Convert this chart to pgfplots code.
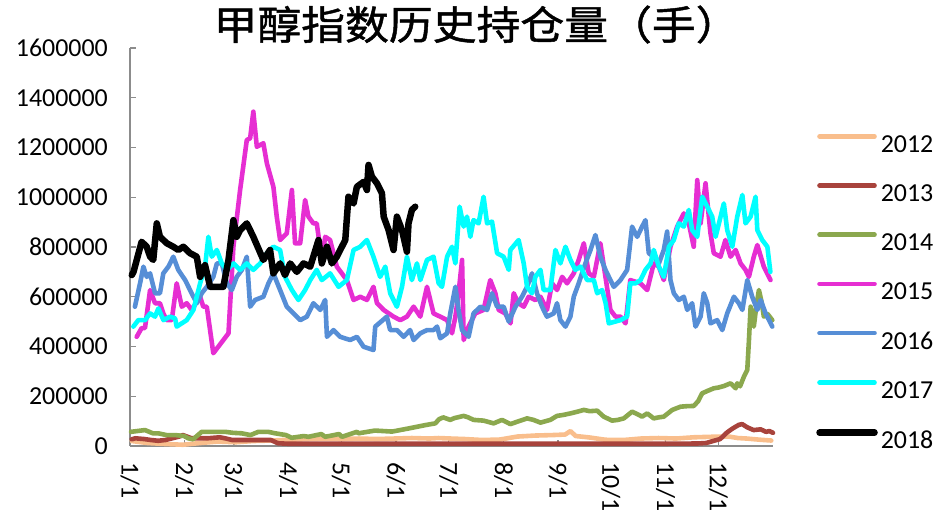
\documentclass[border=0pt]{standalone}
\usepackage{pgfplots}
\pgfplotsset{compat=1.18}
\usepackage{fontspec}
\setmainfont{Carlito}
\newfontfamily\cjk[FakeBold=1.2,FakeStretch=1.1]{Noto Sans CJK SC}
\definecolor{c2012}{HTML}{F9BE8C}
\definecolor{c2013}{HTML}{A8433C}
\definecolor{c2014}{HTML}{8BA84E}
\definecolor{c2015}{HTML}{E62ED2}
\definecolor{c2016}{HTML}{568ED6}
\definecolor{c2017}{HTML}{00FFFF}
\definecolor{c2018}{HTML}{000000}
\begin{document}
\begin{tikzpicture}
\path[use as bounding box] (0,0) rectangle (937bp,516bp);
\begin{axis}[
  at={(130bp,70bp)}, anchor=south west,
  scale only axis, width=643bp, height=398bp,
  xmin=0, xmax=365, ymin=0, ymax=1600000,
  clip=false,
  axis lines*=left,
  axis line style={draw=gray!90, line width=1.2bp},
  tick style={draw=gray!90, line width=1.2bp},
  tick align=inside,
  major tick length=6bp,
  xtick={0,31,59,90,120,151,181,212,243,273,304,334},
  xticklabels={1/1,2/1,3/1,4/1,5/1,6/1,7/1,8/1,9/1,10/1,11/1,12/1},
  ytick={0,200000,400000,600000,800000,1000000,1200000,1400000,1600000},
  scaled y ticks=false,
  /pgf/number format/assume math mode=true,
  /pgf/number format/fixed,
  /pgf/number format/1000 sep={},
  ticklabel style={font=\fontsize{26}{31}\selectfont, inner sep=0pt},
  yticklabel shift=22bp,
  xticklabel style={rotate=-90, anchor=west},
  xticklabel shift=16bp,
  title={\cjk 甲醇指数历史持仓量（手）},
  title style={at={(axis description cs:0.539,1.044)}, anchor=center, font=\fontsize{40}{48}\selectfont},
  legend cell align=left,
  legend image code/.code={\draw[#1, line cap=round] (0bp,8bp) -- (55bp,8bp);},
  legend style={draw=none, fill=none, at={(axis description cs:1.067,0.784)}, anchor=north west,
    inner sep=0pt, row sep=29.7bp, column sep=3bp, font=\fontsize{26}{31}\selectfont,
    nodes={inner sep=0pt}},
  every axis plot/.append style={line width=4.6bp, line join=round, line cap=round},
]
\addplot[c2012] coordinates {(1,20000)(10,12000)(20,8000)(30,5000)(40,12000)(50,18000)(60,15000)(70,20000)(80,22000)(90,25000)(100,28000)(110,30000)(120,28000)(130,30000)(140,28000)(150,30000)(160,32000)(170,30000)(175,32000)(182,30000)(190,28000)(200,24000)(210,26000)(220,38000)(230,42000)(240,44000)(247,46000)(250,60000)(253,40000)(260,35000)(270,25000)(280,24000)(290,30000)(300,32000)(310,30000)(320,35000)(330,37000)(340,38000)(345,32000)(350,30000)(358,25000)(364,22000)};
\addlegendentry{2012}
\addplot[c2013] coordinates {(1,27000)(3,31000)(8,28000)(12,24000)(16,21000)(20,24000)(28,38000)(30,44000)(35,31000)(44,31000)(51,35000)(54,31000)(58,24000)(63,24000)(71,24000)(80,24000)(84,11000)(90,9000)(120,9000)(150,9000)(180,9000)(210,9000)(240,9000)(270,9000)(300,9000)(322,10000)(327,12000)(335,28000)(339,55000)(342,70000)(345.6,85000)(347.5,88000)(350.4,75000)(354,64000)(358,67000)(361,57000)(363,60000)(365,53000)};
\addlegendentry{2013}
\addplot[c2014] coordinates {(0.6,57000)(4,60000)(8.5,64000)(13,51000)(16,51000)(20.7,44000)(25.6,44000)(30.7,40000)(33,31000)(35.8,27000)(40.7,57000)(46,57000)(50.9,57000)(54,57000)(58.4,53000)(63.4,51000)(68.4,44000)(72.9,57000)(78.4,57000)(82.4,51000)(88.5,44000)(91.8,33000)(98.6,40000)(101.3,37000)(108.6,48000)(110.8,37000)(118.7,48000)(120.3,37000)(128.8,57000)(129.7,51000)(139,62000)(148.8,58000)(158.5,71000)(167.6,84000)(173.3,91000)(175.5,108000)(177.8,115000)(181.8,105000)(184.1,112000)(189.4,121000)(192,115000)(195,105000)(200.7,102000)(206.4,91000)(211.2,105000)(215.9,88000)(220,98000)(225.4,111000)(229,105000)(233,94000)(238.6,105000)(242.4,121000)(246,125000)(250,131000)(254,138000)(257.6,145000)(261,140000)(265.2,142000)(268.9,118000)(273.7,102000)(277,105000)(280.3,111000)(285,138000)(288,128000)(290.7,118000)(293.6,131000)(297.3,111000)(300,115000)(303,118000)(307.8,145000)(312.5,158000)(316,160000)(320,161000)(322.5,180000)(324.8,212000)(328,222000)(331.4,232000)(334,235000)(337.1,241000)(340.9,252000)(343.8,232000)(344.7,252000)(346.3,240000)(348.5,279000)(350.4,306000)(351.3,420000)(352.3,560000)(354.1,480000)(355.5,560000)(357,627000)(358.5,580000)(359.8,520000)(362,530000)(364.6,506000)};
\addlegendentry{2014}
\addplot[c2015] coordinates {(3.8,439000)(6.6,474000)(8.5,474000)(11.4,627000)(14.2,574000)(17,574000)(18.9,533000)(20.8,506000)(23.7,506000)(26.5,654000)(29.4,560000)(32.2,574000)(35,547000)(39.8,600000)(41.6,560000)(43.6,560000)(47.3,373000)(55.9,453000)(58.7,801000)(62.5,1029000)(66.3,1230000)(68.2,1237000)(70,1344000)(72,1203000)(75.7,1217000)(77.7,1136000)(81.4,1042000)(83.3,922000)(85.2,828000)(89,855000)(91.9,1029000)(93.7,815000)(96.6,815000)(99.4,989000)(101.3,922000)(104.1,895000)(106,895000)(108.9,748000)(110.8,841000)(113.6,828000)(117.4,721000)(123.1,667000)(126.9,587000)(130.7,600000)(134.5,587000)(138.2,640000)(140.2,574000)(144,547000)(149.6,520000)(153.4,506000)(157.2,520000)(161,560000)(164.8,520000)(168.6,640000)(172.3,533000)(176.1,520000)(180,506000)(182.8,453000)(184.7,520000)(186.5,614000)(188.5,748000)(189.4,426000)(192.2,480000)(196,533000)(200.7,547000)(204.5,667000)(207.4,614000)(209.3,547000)(213,533000)(216,493000)(217.8,614000)(220.6,574000)(223.5,560000)(226.3,600000)(230.1,587000)(233,600000)(236.7,547000)(239.6,654000)(242.4,627000)(245.3,680000)(248.1,654000)(251.9,694000)(254.7,748000)(257.6,815000)(260.4,694000)(263.3,680000)(267,815000)(269.9,680000)(272.7,547000)(275.6,520000)(278.4,520000)(281.3,493000)(284,667000)(289.8,654000)(293.6,627000)(297.3,734000)(300.2,721000)(303,667000)(306.8,801000)(310.6,882000)(314.4,935000)(317.2,895000)(320,801000)(322,1069000)(323.9,895000)(326.7,1056000)(329.5,855000)(331.4,775000)(335.2,761000)(338,828000)(340.9,761000)(343.8,788000)(346.6,734000)(349.4,708000)(351.3,680000)(354.1,761000)(356.1,808000)(359.8,721000)(363.6,667000)};
\addlegendentry{2015}
\addplot[c2016] coordinates {(2.8,560000)(5.7,654000)(7.6,721000)(9.5,680000)(11.4,694000)(14.2,614000)(17,614000)(18.9,694000)(21.8,721000)(24.6,761000)(27.4,708000)(31.3,667000)(35,614000)(37.9,574000)(40.7,614000)(43.6,640000)(47.3,680000)(49.3,734000)(52.1,734000)(55,654000)(57.8,627000)(60.6,680000)(63.5,708000)(66.3,761000)(68.2,560000)(71,587000)(75.7,600000)(78.6,654000)(81.4,694000)(85.2,627000)(89,560000)(92.8,533000)(96.6,506000)(100.4,520000)(104.1,574000)(108,547000)(110.8,587000)(111.8,439000)(115.5,466000)(119.3,439000)(125,426000)(128.8,439000)(132.6,399000)(138.2,386000)(139.2,480000)(145.8,520000)(147.7,466000)(151.5,466000)(155.3,439000)(159,466000)(161,426000)(164.8,453000)(168.6,466000)(172.3,466000)(174.3,480000)(176.1,433000)(180,453000)(181.8,533000)(184.7,640000)(186.5,547000)(188.5,466000)(192.2,439000)(195,533000)(198.9,560000)(202.7,547000)(205.5,614000)(208.4,560000)(212.1,560000)(215,500000)(218.8,560000)(222.5,600000)(225.4,640000)(228.2,694000)(231,614000)(233.9,560000)(236.7,520000)(240.5,533000)(242.4,574000)(244.3,506000)(247.2,480000)(250,520000)(251.9,600000)(254.7,654000)(258.5,734000)(261.4,788000)(264.2,848000)(267,761000)(269.9,708000)(272.7,667000)(274.6,640000)(278.4,667000)(282.2,708000)(285,882000)(287.9,841000)(290.7,882000)(292.6,908000)(294.5,775000)(297.3,761000)(300.2,734000)(303,788000)(304.9,862000)(306.8,667000)(308.7,614000)(311.5,587000)(314.4,600000)(316.3,547000)(319.1,574000)(321,480000)(323.9,520000)(325.7,614000)(327.7,574000)(329.5,493000)(333.3,506000)(336.2,466000)(339,533000)(342.8,600000)(345.6,574000)(347.6,547000)(350.4,667000)(353.2,600000)(356.1,547000)(358,587000)(360.8,533000)(364.6,480000)};
\addlegendentry{2016}
\addplot[c2017] coordinates {(1.9,480000)(4.7,506000)(8.5,506000)(11.4,533000)(14.2,520000)(16.1,553000)(19,506000)(22.7,520000)(25.6,513000)(26.5,480000)(32.2,506000)(36,547000)(39.8,654000)(42.6,721000)(44.5,841000)(46.4,761000)(49.3,788000)(52.1,734000)(55,708000)(58.7,734000)(62.5,708000)(66.3,734000)(70,708000)(73.9,734000)(77.7,775000)(81.4,801000)(85.2,788000)(88,680000)(91.9,627000)(95.6,587000)(99.4,627000)(102.3,667000)(106,708000)(108.9,667000)(113.6,694000)(118.4,640000)(123.1,667000)(126.9,788000)(130.7,801000)(134.5,828000)(138.2,761000)(142,680000)(144.9,721000)(147.7,614000)(151.5,560000)(154.4,640000)(157.2,761000)(160,667000)(162.9,734000)(164.8,667000)(168.6,748000)(172.3,761000)(175.2,654000)(177.1,640000)(180,761000)(182.8,801000)(184.7,734000)(187.1,962000)(189.4,882000)(191.3,922000)(193.2,841000)(195,908000)(197.9,895000)(200.7,1002000)(202.7,895000)(205.5,902000)(208.4,775000)(212.1,761000)(215,708000)(215.9,788000)(220.6,828000)(223.5,734000)(225.4,640000)(228.2,614000)(230.1,680000)(233,708000)(234.8,627000)(238.6,627000)(241.5,788000)(244.3,734000)(247.2,801000)(250,748000)(252.8,708000)(255.7,721000)(259.5,667000)(263.3,667000)(265.2,614000)(268,627000)(270,574000)(271.8,493000)(278.4,506000)(282.2,520000)(284,654000)(287,654000)(289.8,667000)(292.6,708000)(295.5,734000)(297.3,788000)(300.2,721000)(303,680000)(305.9,801000)(308.7,828000)(311.5,895000)(314.4,882000)(317.2,949000)(319.1,868000)(322,841000)(324.8,1002000)(327.7,962000)(330.5,922000)(332.4,841000)(334.3,895000)(337.1,975000)(339,868000)(341.9,801000)(344.7,922000)(347.6,1009000)(349.4,895000)(352.3,922000)(355.1,1002000)(356.1,868000)(358.9,828000)(361.8,801000)(363.5,700000)};
\addlegendentry{2017}
\addplot[c2018, line width=6.5bp] coordinates {(1,687000)(2,700000)(6.6,821000)(9.5,801000)(11.4,761000)(13.2,748000)(15.2,895000)(17,841000)(20.9,815000)(24.6,801000)(27.4,788000)(30.3,801000)(34.1,775000)(37.9,761000)(39.8,680000)(42.6,727000)(45.5,640000)(53,640000)(55.9,748000)(58.7,908000)(60.6,841000)(62.5,868000)(66.3,895000)(70,841000)(75.7,748000)(79.5,788000)(81.4,694000)(85.2,734000)(88,687000)(90.9,734000)(94.7,700000)(98.5,734000)(102.3,721000)(107,828000)(108.9,734000)(111.8,801000)(114.6,734000)(117.4,761000)(122.2,828000)(124,1002000)(126.9,975000)(128.8,1042000)(132.6,1062000)(134.5,1029000)(135.4,1130000)(137.3,1083000)(140.2,1056000)(143,1016000)(144,922000)(146.8,868000)(149.6,788000)(151.5,922000)(154.4,868000)(157.2,781000)(158.1,895000)(160,949000)(161.9,962000)};
\addlegendentry{2018}
\end{axis}
\end{tikzpicture}
\end{document}
